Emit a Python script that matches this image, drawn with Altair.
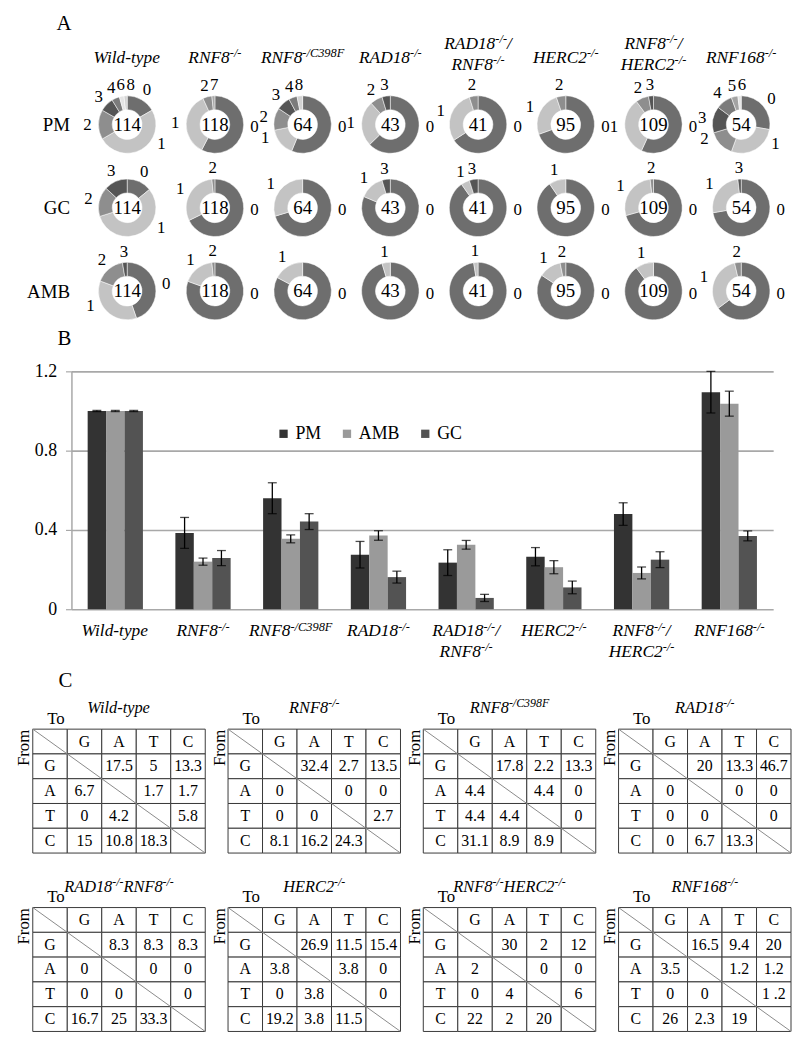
import math
import altair as alt
import pandas as pd

FONT = "Liberation Serif"

# ---------------- data ----------------
genotypes = ["WT", "RNF8", "RNF8C398F", "RAD18", "RAD18RNF8", "HERC2", "RNF8HERC2", "RNF168"]
rows = ["PM", "GC", "AMB"]

# label segments: (text, is_superscript)
name_lines = [
    [[("Wild-type", 0)]],
    [[("RNF8", 0), ("-/-", 1)]],
    [[("RNF8", 0), ("-/C398F", 1)]],
    [[("RAD18", 0), ("-/-", 1)]],
    [[("RAD18", 0), ("-/-", 1), ("/", 0)], [("RNF8", 0), ("-/-", 1)]],
    [[("HERC2", 0), ("-/-", 1)]],
    [[("RNF8", 0), ("-/-", 1), ("/", 0)], [("HERC2", 0), ("-/-", 1)]],
    [[("RNF168", 0), ("-/-", 1)]],
]
table_titles = [
    [("Wild-type", 0)],
    [("RNF8", 0), ("-/-", 1)],
    [("RNF8", 0), ("-/C398F", 1)],
    [("RAD18", 0), ("-/-", 1)],
    [("RAD18", 0), ("-/-", 1), ("RNF8", 0), ("-/-", 1)],
    [("HERC2", 0), ("-/-", 1)],
    [("RNF8", 0), ("-/-", 1), ("HERC2", 0), ("-/-", 1)],
    [("RNF168", 0), ("-/-", 1)],
]

# Panel A: (category, count) per genotype
pm_slices = [
    [(0, 19), (1, 57), (2, 19), (3, 9), (4, 5), (6, 3), (8, 2)],
    [(0, 68), (1, 42), (2, 6), (7, 2)],
    [(0, 36), (1, 10), (2, 8), (3, 5), (4, 3), (8, 2)],
    [(0, 27), (1, 11), (2, 3), (3, 2)],
    [(0, 27), (1, 12), (2, 2)],
    [(0, 66), (1, 24), (2, 5)],
    [(0, 62), (1, 36), (2, 8), (3, 3)],
    [(0, 15), (1, 15), (2, 8), (3, 8), (4, 5), (5, 2), (6, 1)],
]
gc_slices = [
    [(0, 16), (1, 64), (2, 19), (3, 15)],
    [(0, 80), (1, 36), (2, 2)],
    [(0, 45), (1, 19)],
    [(0, 35), (1, 6), (3, 2)],
    [(0, 37), (1, 2), (3, 2)],
    [(0, 86), (1, 9)],
    [(0, 77), (1, 30), (2, 2)],
    [(0, 39), (1, 14), (3, 1)],
]
amb_slices = [
    [(0, 51), (1, 41), (2, 19), (3, 3)],
    [(0, 95), (1, 21), (2, 2)],
    [(0, 53), (1, 11)],
    [(0, 41), (1, 2)],
    [(0, 40), (1, 1)],
    [(0, 80), (1, 12), (2, 3)],
    [(0, 98), (1, 11)],
    [(0, 35), (1, 17), (2, 2)],
]
cat_domain = ["0", "1", "2", "3", "4", "5", "6", "7", "8"]
cat_colors = ["#6e6e6e", "#c3c3c3", "#8e8e8e", "#555555", "#7b7b7b",
              "#a3a3a3", "#e4e4e4", "#a8a8a8", "#d2d2d2"]

# Panel B
series = ["PM", "AMB", "GC"]
series_colors = ["#333333", "#9a9a9a", "#535353"]
pm_mean = [1.0, 0.385, 0.56, 0.275, 0.235, 0.265, 0.48, 1.095]
pm_err = [0.003, 0.078, 0.078, 0.067, 0.065, 0.046, 0.057, 0.105]
amb_mean = [1.0, 0.24, 0.355, 0.372, 0.325, 0.212, 0.183, 1.037]
amb_err = [0.003, 0.018, 0.02, 0.024, 0.022, 0.033, 0.03, 0.063]
gc_mean = [1.0, 0.258, 0.442, 0.162, 0.057, 0.11, 0.25, 0.37]
gc_err = [0.003, 0.038, 0.04, 0.03, 0.018, 0.032, 0.04, 0.025]
y_ticks = [0, 0.4, 0.8, 1.2]

# Panel C: rows = From G,A,T,C ; columns = To G,A,T,C
bases = ["G", "A", "T", "C"]
mut_tables = [
    [["", "17.5", "5", "13.3"], ["6.7", "", "1.7", "1.7"], ["0", "4.2", "", "5.8"], ["15", "10.8", "18.3", ""]],
    [["", "32.4", "2.7", "13.5"], ["0", "", "0", "0"], ["0", "0", "", "2.7"], ["8.1", "16.2", "24.3", ""]],
    [["", "17.8", "2.2", "13.3"], ["4.4", "", "4.4", "0"], ["4.4", "4.4", "", "0"], ["31.1", "8.9", "8.9", ""]],
    [["", "20", "13.3", "46.7"], ["0", "", "0", "0"], ["0", "0", "", "0"], ["0", "6.7", "13.3", ""]],
    [["", "8.3", "8.3", "8.3"], ["0", "", "0", "0"], ["0", "0", "", "0"], ["16.7", "25", "33.3", ""]],
    [["", "26.9", "11.5", "15.4"], ["3.8", "", "3.8", "0"], ["0", "3.8", "", "0"], ["19.2", "3.8", "11.5", ""]],
    [["", "30", "2", "12"], ["2", "", "0", "0"], ["0", "4", "", "6"], ["22", "2", "20", ""]],
    [["", "16.5", "9.4", "20"], ["3.5", "", "1.2", "1.2"], ["0", "0", "", "1 .2"], ["26", "2.3", "19", ""]],
]

# ---------------- helpers ----------------
CHAR_W = {"W": 833, "i": 278, "l": 278, "d": 500, "-": 333, "t": 278, "y": 444, "p": 500,
          "e": 444, "R": 611, "N": 667, "F": 611, "A": 611, "D": 722, "H": 722, "E": 611,
          "C": 667, "/": 278}


def text_w(s, size):
    return sum(CHAR_W.get(ch, 500) for ch in s) * size / 1000.0


def segment_frame(label_lines, keys_for, size_b, size_s, unit_px, centers):
    recs = []
    for i, lines in enumerate(label_lines):
        keys = keys_for(len(lines))
        for key, segs in zip(keys, lines):
            widths = [text_w(t, size_s if sup else size_b) for t, sup in segs]
            x = -sum(widths) / 2.0
            for (t, sup), w in zip(segs, widths):
                recs.append({"pos": centers[i] + x / unit_px, "line": key, "text": t,
                             "kind": "sup" if sup else "base"})
                x += w
    return pd.DataFrame(recs)


def segment_layers(df, x_enc, y_enc, size_b, size_s, sup_dy):
    common = dict(align="left", baseline="middle", font=FONT, fontStyle="italic", color="black")
    b = alt.Chart(df).transform_filter(alt.datum.kind == "base").mark_text(
        fontSize=size_b, **common).encode(x=x_enc, y=y_enc, text="text:N")
    s = alt.Chart(df).transform_filter(alt.datum.kind == "sup").mark_text(
        fontSize=size_s, dy=sup_dy, **common).encode(x=x_enc, y=y_enc, text="text:N")
    return [b, s]


def label_angles(mids):
    out = list(mids)
    out[0] = min(out[0], 0.27)
    for i in range(len(out)):
        a = out[i]
        if 0.25 < a <= 0.5:
            out[i] = 0.25 + (a - 0.25) * 0.5
        elif 0.5 < a < 0.75:
            out[i] = 0.75 - (0.75 - a) * 0.5
    for i in range(1, len(out)):
        if out[i] > 0.6 and out[i] - out[i - 1] < 0.04:
            out[i] = out[i - 1] + 0.04
    return out


def spacer(w=1):
    # invisible anchor so that every panel starts at the same left edge
    return alt.Chart(pd.DataFrame({"v": [0]})).mark_point(size=0, opacity=0).encode(
        x=alt.X("v:Q", axis=None), y=alt.Y("v:Q", axis=None)).properties(width=w, height=1)


W = 708
STEP = W / 8.0
ROW_STEP = 84.0
LABEL_R = 40.0
gidx = list(range(len(genotypes)))

# ---------------- Panel A ----------------
hdrA_df = segment_frame(name_lines, lambda n: ["s"] if n == 1 else ["1", "2"], 17.5, 12.5, STEP, gidx)
xq = alt.Scale(domain=[-0.5, 7.5], nice=False, zero=False)
hdrA = alt.layer(*segment_layers(
    hdrA_df, alt.X("pos:Q", scale=xq, axis=None),
    alt.Y("line:N", scale=alt.Scale(domain=["1", "gap", "s", "2"]), axis=None), 17.5, 12.5, -5,
)).properties(width=W, height=28,
              title=alt.TitleParams("A", anchor="start", frame="group", dx=-27, offset=-1,
                                    fontSize=21, fontWeight="normal", font=FONT))

arc_recs, lab_recs, ctr_recs = [], [], []
for ri, (row, table) in enumerate(zip(rows, [pm_slices, gc_slices, amb_slices])):
    for gi, slices in enumerate(table):
        tot = sum(c for _, c in slices)
        cum = 0
        mids = []
        for cat, cnt in slices:
            s0, s1 = cum / tot, (cum + cnt) / tot
            arc_recs.append({"gi": gi, "ri": ri, "cat": str(cat), "start": s0, "end": s1})
            mids.append((s0 + s1) / 2)
            cum += cnt
        for (cat, _), a in zip(slices, label_angles(mids)):
            ang = 2 * math.pi * a
            lab_recs.append({"lx": gi + LABEL_R * math.sin(ang) / STEP,
                             "ly": ri - LABEL_R * math.cos(ang) / ROW_STEP,
                             "cat": str(cat)})
        ctr_recs.append({"gi": gi, "ri": ri, "n": str(tot)})

yq = alt.Scale(domain=[2.25, -0.25], nice=False, zero=False)
yaxA = alt.Axis(title=None, values=[0, 1, 2], labelExpr="['PM', 'GC', 'AMB'][datum.value]",
                ticks=False, domain=False, grid=False, labelFontSize=19, labelFont=FONT,
                labelColor="black", labelPadding=14, minExtent=63)

arcs = alt.Chart(pd.DataFrame(arc_recs)).mark_arc(
    innerRadius=15, outerRadius=29, stroke="white", strokeWidth=0.5).encode(
    x=alt.X("gi:Q", scale=xq, axis=None),
    y=alt.Y("ri:Q", scale=yq, axis=yaxA),
    theta=alt.Theta("start:Q", scale=alt.Scale(domain=[0, 1], range=[0, 2 * math.pi]), stack=False),
    theta2="end:Q",
    color=alt.Color("cat:N", scale=alt.Scale(domain=cat_domain, range=cat_colors), legend=None),
)
arc_labels = alt.Chart(pd.DataFrame(lab_recs)).mark_text(
    fontSize=17, font=FONT, color="black", align="center", baseline="middle").encode(
    x=alt.X("lx:Q", scale=xq, axis=None),
    y=alt.Y("ly:Q", scale=yq, axis=yaxA),
    text="cat:N",
)
centers = alt.Chart(pd.DataFrame(ctr_recs)).mark_text(
    fontSize=19, font=FONT, color="black", align="center", baseline="middle").encode(
    x=alt.X("gi:Q", scale=xq, axis=None), y=alt.Y("ri:Q", scale=yq, axis=yaxA), text="n:N")
donuts = alt.layer(arcs, arc_labels, centers).properties(width=W, height=210)

panelA = alt.hconcat(spacer(8), alt.vconcat(hdrA, donuts, spacing=3), spacing=0)

# ---------------- Panel B ----------------
bar_recs, cap_recs = [], []
for s, means, errs in zip(series, [pm_mean, amb_mean, gc_mean], [pm_err, amb_err, gc_err]):
    for g, m, e in zip(genotypes, means, errs):
        bar_recs.append({"g": g, "s": s, "mean": m, "lo": m - e, "hi": m + e})
        cap_recs.append({"g": g, "s": s, "v": m - e})
        cap_recs.append({"g": g, "s": s, "v": m + e})
bar_df = pd.DataFrame(bar_recs)

XB = alt.X("g:N", sort=genotypes,
           scale=alt.Scale(domain=genotypes, paddingInner=0.37, paddingOuter=0.185), axis=None)
XO = alt.XOffset("s:N", sort=series, scale=alt.Scale(domain=series, paddingInner=0, paddingOuter=0))
ysb = alt.Scale(domain=[0, 1.2], nice=False, zero=True)
yaxb = alt.Axis(values=y_ticks, title=None,
                labelExpr="datum.value == 0 ? '0' : format(datum.value, '.1f')",
                grid=True, gridColor="#a8a8a8", gridWidth=1.6,
                domain=True, domainColor="#a8a8a8", domainWidth=1.5,
                ticks=True, tickColor="#a8a8a8", tickSize=6, tickWidth=1.2,
                labelFontSize=18, labelFont=FONT, labelColor="black", labelPadding=9,
                minExtent=58)

bars = alt.Chart(bar_df).mark_bar().encode(
    x=XB, xOffset=XO,
    y=alt.Y("mean:Q", scale=ysb, axis=yaxb),
    color=alt.Color("s:N", sort=series, scale=alt.Scale(domain=series, range=series_colors),
                    legend=alt.Legend(title=None, orient="none", legendX=264, legendY=54,
                                      direction="horizontal", symbolType="square",
                                      symbolSize=70, symbolStrokeWidth=0, labelFontSize=18,
                                      labelFont=FONT, labelColor="black", columnPadding=16,
                                      gridAlign="each", labelOffset=3, padding=0)),
)
err_rules = alt.Chart(bar_df).mark_rule(color="black", strokeWidth=1.3).encode(
    x=XB, xOffset=XO, y=alt.Y("lo:Q", scale=ysb, axis=yaxb), y2="hi:Q")
err_caps = alt.Chart(pd.DataFrame(cap_recs)).mark_tick(color="black", thickness=1.3, size=9).encode(
    x=XB, xOffset=XO, y=alt.Y("v:Q", scale=ysb, axis=yaxb))
barchart = alt.layer(bars, err_rules, err_caps).properties(
    width=W, height=240,
    title=alt.TitleParams("B", anchor="start", frame="group", dx=-14, offset=14,
                          fontSize=21, fontWeight="normal", font=FONT))

labB_df = segment_frame(name_lines, lambda n: ["1"] if n == 1 else ["1", "2"], 17.5, 12.5, STEP, gidx)
labB = alt.layer(*segment_layers(
    labB_df, alt.X("pos:Q", scale=xq, axis=None),
    alt.Y("line:N", scale=alt.Scale(domain=["1", "2"]), axis=None), 17.5, 12.5, -5,
)).properties(width=W, height=42)

panelB = alt.hconcat(spacer(), alt.vconcat(barchart, labB, spacing=2), spacing=0)

# ---------------- Panel C ----------------
TW, TH = 174, 125


def table_chart(k):
    cells = []
    for r in range(5):
        for c in range(5):
            if r == 0 and c == 0:
                t = ""
            elif r == 0:
                t = bases[c - 1]
            elif c == 0:
                t = bases[r - 1]
            else:
                t = mut_tables[k][r - 1][c - 1]
            cells.append({"c0": c, "c1": c + 1, "r0": r, "r1": r + 1,
                          "cm": c + 0.5, "rm": r + 0.5, "t": t})
    cdf = pd.DataFrame(cells)
    xs = alt.Scale(domain=[0, 5], nice=False, zero=False)
    ys = alt.Scale(domain=[5, 0], nice=False, zero=False)
    xax = alt.Axis(orient="top", title="To", labels=False, ticks=False, domain=False, grid=False,
                   titleX=14, titleAlign="left", titlePadding=2, titleFontSize=17,
                   titleFontWeight="normal", titleFont=FONT, titleColor="black", minExtent=0)
    yax = alt.Axis(orient="left", title="From", labels=False, ticks=False, domain=False, grid=False,
                   titleAnchor="end", titlePadding=0, titleFontSize=17, titleFontWeight="normal",
                   titleFont=FONT, titleColor="black", minExtent=0)

    rects = alt.Chart(cdf).mark_rect(fill="white", stroke="#3a3a3a", strokeWidth=1).encode(
        x=alt.X("c0:Q", scale=xs, axis=xax), x2="c1:Q",
        y=alt.Y("r0:Q", scale=ys, axis=yax), y2="r1:Q")
    diag = alt.Chart(pd.DataFrame({"x0": [0], "x1": [5], "y0": [0], "y1": [5]})).mark_rule(
        color="#8a8a8a", strokeWidth=1).encode(
        x=alt.X("x0:Q", scale=xs, axis=xax), x2="x1:Q",
        y=alt.Y("y0:Q", scale=ys, axis=yax), y2="y1:Q")
    txt = alt.Chart(cdf[cdf["t"] != ""]).mark_text(fontSize=16, font=FONT, color="black").encode(
        x=alt.X("cm:Q", scale=xs, axis=xax), y=alt.Y("rm:Q", scale=ys, axis=yax), text="t:N")
    tdf = segment_frame([[table_titles[k]]], lambda n: ["1"], 16.5, 12, TW / 5.0, [2.5])
    tdf["ty"] = -0.84
    ttl = segment_layers(tdf, alt.X("pos:Q", scale=xs, axis=xax),
                         alt.Y("ty:Q", scale=ys, axis=yax), 16.5, 12, -5)
    ch = alt.layer(rects, diag, txt, *ttl).properties(width=TW, height=TH)
    if k == 0:
        ch = ch.properties(title=alt.TitleParams("C", anchor="start", frame="group", dx=26, offset=10,
                                                 fontSize=21, fontWeight="normal", font=FONT))
    return ch


tables = alt.concat(*[table_chart(k) for k in range(8)], columns=4,
                    spacing=alt.RowColnumber(row=22, column=3))
panelC = alt.hconcat(spacer(), tables, spacing=0)

chart = alt.vconcat(panelA, panelB, panelC, spacing=7).resolve_scale(
    color="independent"
).properties(
    padding={"left": 5, "top": 0, "right": 0, "bottom": 0}
).configure(font=FONT).configure_view(stroke=None)

chart.save("out.html", embed_options={"renderer": "svg", "actions": False})
